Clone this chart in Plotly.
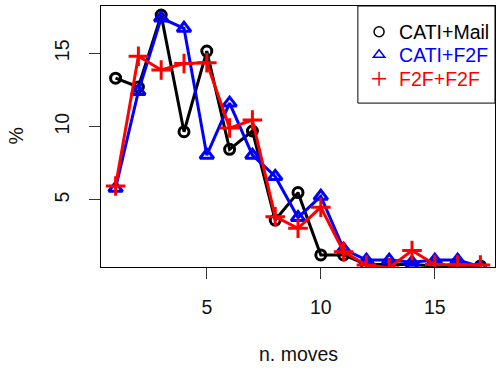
import plotly.graph_objects as go

moves = list(range(1, 18))
cati_mail = [13.3, 12.7, 17.6, 9.65, 15.15, 8.45, 9.7, 3.63, 5.5, 1.25, 1.25, 0.6, 0.6, 0.6, 0.5, 0.5, 0.5]
cati_f2f = [5.8, 12.4, 17.4, 16.7, 8.05, 11.6, 8.05, 6.6, 3.8, 5.25, 1.65, 0.9, 0.9, 0.75, 0.9, 0.9, 0.45]
f2f_f2f = [5.95, 14.8, 13.86, 14.3, 14.35, 9.9, 10.45, 3.86, 3.07, 4.5, 1.47, 0.57, 0.38, 1.55, 0.6, 0.57, 0.57]

series = [
    ("CATI+Mail", cati_mail, "black", "circle-open", 10),
    ("CATI+F2F", cati_f2f, "blue", "triangle-up-open", 12),
    ("F2F+F2F", f2f_f2f, "red", "cross-thin-open", 14),
]
x_ticks = [5, 10, 15]
y_ticks = [5, 10, 15]

FONT = "Liberation Sans, Arial, sans-serif"
fig = go.Figure()
for name, vals, col, sym, sz in series:
    fig.add_trace(go.Scatter(
        x=moves, y=vals, mode="lines+markers", name=name, showlegend=False,
        line=dict(color=col, width=3),
        marker=dict(symbol=sym, size=sz, color=col, line=dict(color=col, width=3)),
    ))

legend_names = ["legend", "legend2", "legend3"]
row_y = [0.900, 0.812, 0.720]
legends = {}
for (name, vals, col, sym, sz), lg, ry in zip(series, legend_names, row_y):
    fig.add_trace(go.Scatter(
        x=[None], y=[None], mode="markers", name=name, showlegend=True, legend=lg,
        marker=dict(symbol=sym, size=10, color=col, line=dict(color=col, width=1.5)),
    ))
    legends[lg] = dict(
        x=0.655, y=ry, xanchor="left", yanchor="middle",
        borderwidth=0, bgcolor="rgba(0,0,0,0)",
        font=dict(size=19.5, color=col), itemwidth=30,
    )

fig.update_layout(
    width=496, height=372,
    margin=dict(l=101, r=1, t=6, b=105),
    paper_bgcolor="white", plot_bgcolor="white",
    font=dict(family=FONT, size=19.5, color="black"),
    xaxis=dict(
        range=[0.36, 17.64], tickvals=x_ticks, ticks="outside", ticklen=11,
        tickcolor="#333", showline=True, linecolor="black", linewidth=1, mirror=True,
        showgrid=False, zeroline=False, ticklabelstandoff=12,
        tickfont=dict(size=19.5, color="#111"),
    ),
    yaxis=dict(
        range=[0.43, 18.22], tickvals=y_ticks, ticks="outside", ticklen=11,
        tickcolor="#333", showline=True, linecolor="black", linewidth=1, mirror=True,
        showgrid=False, zeroline=False, tickangle=-90, ticklabelstandoff=12,
        tickfont=dict(size=19.5, color="#111"),
    ),
    shapes=[dict(type="rect", xref="paper", yref="paper", x0=0.652, x1=1.0,
                 y0=0.628, y1=1.0, line=dict(color="black", width=1),
                 fillcolor="white", layer="above")],
    annotations=[
        dict(text="n. moves", xref="paper", yref="paper", x=0.5, y=0,
             yshift=-87, showarrow=False, xanchor="center", yanchor="middle",
             font=dict(size=19.5, color="#111")),
        dict(text="%", xref="paper", yref="paper", x=0, y=0.5,
             xshift=-86, showarrow=False, xanchor="center", yanchor="middle",
             textangle=-90, font=dict(size=19.5, color="#111")),
    ],
    **legends,
)
fig.write_html("out.html")
